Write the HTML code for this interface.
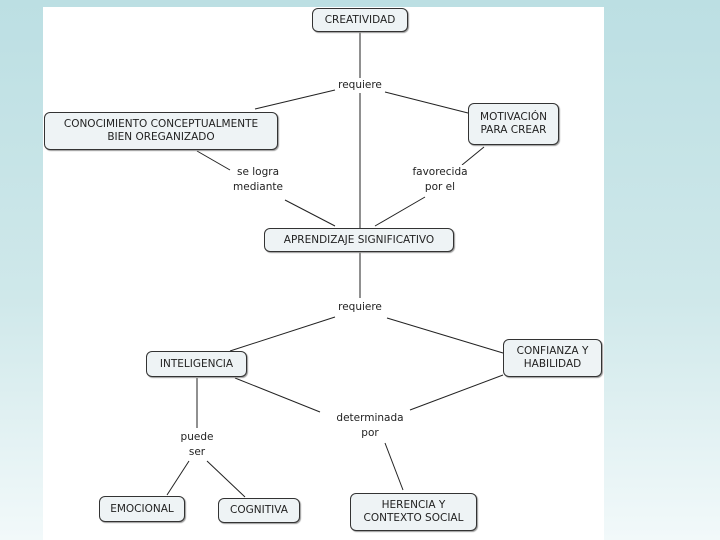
<!DOCTYPE html>
<html><head><meta charset="utf-8"><style>
body{margin:0;width:720px;height:540px;overflow:hidden;background:linear-gradient(#bcdfe3 0%,#cfe8ea 55%,#f2f9fa 100%);font-family:"DejaVu Sans","Liberation Sans",sans-serif;position:relative}
#panel{position:absolute;left:43px;top:7px;width:561px;height:533px;background:#fff}
.n{position:absolute;box-sizing:border-box;border:1px solid #333;border-radius:6px;background:#eef3f5;font-size:10.5px;color:#222;display:flex;align-items:center;justify-content:center;text-align:center;line-height:13px;box-shadow:1px 1px 1px #999}
.l{position:absolute;font-size:10.5px;color:#222;text-align:center;line-height:15px;background:#fff;transform:translateX(-50%)}
svg{position:absolute;left:0;top:0}
</style></head><body>
<div id="panel"></div>
<svg width="720" height="540"><g stroke="#222" stroke-width="1" fill="none">
<line x1="360" y1="32" x2="360" y2="228"/>
<line x1="335" y1="90" x2="255" y2="109"/>
<line x1="385" y1="92" x2="468" y2="113"/>
<line x1="197" y1="151" x2="230" y2="170"/>
<line x1="285" y1="200" x2="335" y2="226"/>
<line x1="484" y1="147" x2="462" y2="165"/>
<line x1="425" y1="197" x2="375" y2="226"/>
<line x1="360" y1="252" x2="360" y2="298"/>
<line x1="335" y1="317" x2="230" y2="351"/>
<line x1="387" y1="318" x2="503" y2="353"/>
<line x1="235" y1="378" x2="320" y2="412"/>
<line x1="410" y1="410" x2="503" y2="375"/>
<line x1="385" y1="443" x2="403" y2="490"/>
<line x1="197" y1="378" x2="197" y2="428"/>
<line x1="189" y1="461" x2="167" y2="495"/>
<line x1="207" y1="461" x2="245" y2="497"/>
</g></svg>
<div class="n" style="left:312px;top:8px;width:96px;height:24px">CREATIVIDAD</div>
<div class="n" style="left:44px;top:112px;width:234px;height:38px">CONOCIMIENTO CONCEPTUALMENTE<br>BIEN OREGANIZADO</div>
<div class="n" style="left:468px;top:103px;width:91px;height:42px">MOTIVACIÓN<br>PARA CREAR</div>
<div class="n" style="left:264px;top:228px;width:190px;height:24px">APRENDIZAJE SIGNIFICATIVO</div>
<div class="n" style="left:146px;top:351px;width:101px;height:26px">INTELIGENCIA</div>
<div class="n" style="left:503px;top:339px;width:99px;height:38px">CONFIANZA Y<br>HABILIDAD</div>
<div class="n" style="left:99px;top:496px;width:86px;height:26px">EMOCIONAL</div>
<div class="n" style="left:218px;top:498px;width:82px;height:25px">COGNITIVA</div>
<div class="n" style="left:350px;top:493px;width:127px;height:38px">HERENCIA Y<br>CONTEXTO SOCIAL</div>
<div class="l" style="left:360px;top:78px">requiere</div>
<div class="l" style="left:258px;top:165px">se logra<br>mediante</div>
<div class="l" style="left:440px;top:165px">favorecida<br>por el</div>
<div class="l" style="left:360px;top:300px">requiere</div>
<div class="l" style="left:370px;top:411px">determinada<br>por</div>
<div class="l" style="left:197px;top:430px">puede<br>ser</div>
</body></html>
